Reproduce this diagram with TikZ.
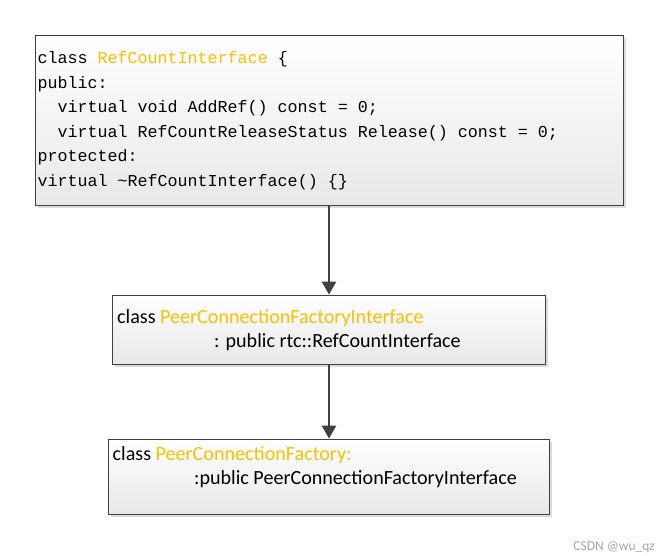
\documentclass[tikz,border=0pt]{standalone}
\usepackage{fontspec}
\setmainfont{Carlito}
\setmonofont{Liberation Mono}
\usetikzlibrary{arrows.meta,shadows}
\definecolor{classname}{HTML}{FFC000}
\definecolor{edgegray}{HTML}{404040}
\tikzset{>={Triangle[width=14pt,length=13pt]},
  classbox/.style={draw=edgegray,line width=0.8pt,top color=white,bottom color=black!9,
    drop shadow={shadow xshift=3pt,shadow yshift=-3pt,fill=black!14,opacity=1},inner sep=0pt},
  codeline/.style={anchor=base west,inner sep=0pt,font=\ttfamily\fontsize{16.67}{20}\selectfont},
  sansline/.style={anchor=base west,inner sep=0pt,font=\fontsize{20.1}{24}\selectfont},
  inherit/.style={->,draw=edgegray,fill=edgegray,line width=2.4pt}}

\begin{document}
\begin{tikzpicture}[x=1pt,y=-1pt]
\useasboundingbox (0,0) rectangle (662,556);
% class boxes
\node[classbox,minimum width=588pt,minimum height=170pt] (top) at (329,120) {};
\node[classbox,minimum width=433pt,minimum height=69pt] (mid) at (328.5,329.5) {};
\node[classbox,minimum width=441pt,minimum height=75pt] (bot) at (328.5,476.5) {};
% RefCountInterface
\node[codeline] (t1) at (37.5,64) {class \textcolor{classname}{RefCountInterface} \{};
\node[codeline] (t2) at (37.5,88.5) {public:};
\node[codeline] (t3) at (57.5,113) {virtual void AddRef() const = 0;};
\node[codeline] (t4) at (57.5,137.5) {virtual RefCountReleaseStatus Release() const = 0;};
\node[codeline] (t5) at (37.5,162) {protected:};
\node[codeline] (t6) at (37.5,186.5) {virtual \textasciitilde RefCountInterface() \{\}};
% PeerConnectionFactoryInterface
\node[sansline] (m1) at (117,323.3) {class \textcolor{classname}{PeerConnectionFactoryInterface}};
\node[sansline] (m2) at (214,347.3) {: public rtc::RefCountInterface};
% PeerConnectionFactory
\node[sansline] (b1) at (112.5,460) {class \textcolor{classname}{PeerConnectionFactory:}};
\node[sansline] (b2) at (194,484) {:public PeerConnectionFactoryInterface};
\draw[inherit] (top.south) -- (top.south |- mid.north);
\draw[inherit] (mid.south -| top.south) -- (top.south |- bot.north);
\node[anchor=base east,inner sep=0pt,text=black!35,font=\fontsize{13.5}{15}\selectfont] (wm) at (655,550) {CSDN @wu\_qz};
\end{tikzpicture}
\end{document}
